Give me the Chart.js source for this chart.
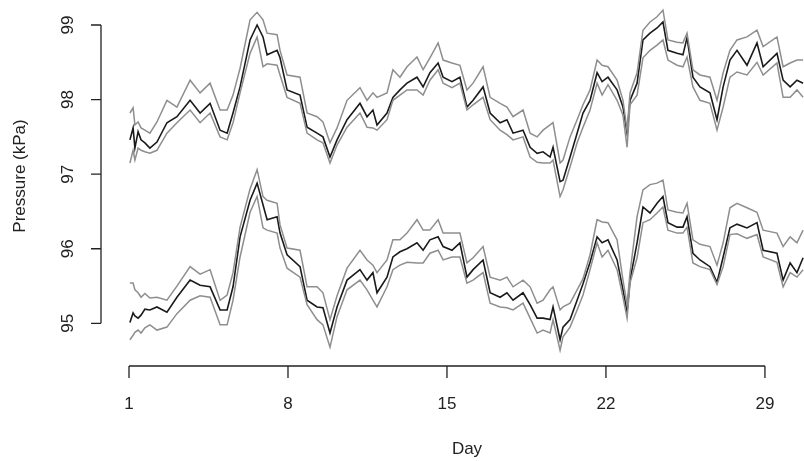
<!DOCTYPE html>
<html>
<head>
<meta charset="utf-8">
<title>Pressure by day</title>
<script src="https://cdn.jsdelivr.net/npm/chart.js@4.4.0/dist/chart.umd.min.js"></script>
<style>
  body { margin: 0; background: #ffffff; }
  canvas { display: block; }
</style>
</head>
<body>
<canvas id="pressureChart" width="804" height="461"></canvas>
<script>
// Day positions of the readings (shared by all six lines)
const days = [1.04, 1.18, 1.26, 1.40, 1.53, 1.70, 1.92, 2.23, 2.67, 3.11,
    3.69, 4.13, 4.57, 5.01, 5.32, 5.58, 5.89, 6.33, 6.64, 6.90,
    7.08, 7.52, 7.65, 7.96, 8.53, 8.84, 9.28, 9.54, 9.85, 10.16,
    10.60, 11.17, 11.48, 11.74, 11.92, 12.36, 12.62, 12.93, 13.24, 13.68,
    13.95, 14.25, 14.61, 14.83, 15.22, 15.57, 15.88, 16.15, 16.59, 16.90,
    17.34, 17.64, 17.91, 18.35, 18.66, 18.97, 19.23, 19.54, 19.67, 19.98,
    20.11, 20.42, 20.73, 20.99, 21.30, 21.61, 21.83, 22.09, 22.49, 22.75,
    22.93, 23.06, 23.37, 23.63, 23.94, 24.25, 24.51, 24.73, 25.13, 25.39,
    25.57, 25.83, 26.14, 26.58, 26.89, 27.16, 27.46, 27.77, 28.21, 28.65,
    28.92, 29.53, 29.80, 30.11, 30.41, 30.68];

// Upper group (kPa)
const topMid = [97.46, 97.62, 97.35, 97.57, 97.46, 97.42, 97.35, 97.43, 97.69, 97.77,
    97.99, 97.82, 97.95, 97.59, 97.55, 97.82, 98.17, 98.80, 99.00, 98.84,
    98.60, 98.66, 98.56, 98.13, 98.06, 97.63, 97.55, 97.50, 97.23, 97.46,
    97.73, 97.95, 97.77, 97.86, 97.66, 97.82, 98.03, 98.13, 98.22, 98.30,
    98.17, 98.36, 98.49, 98.30, 98.24, 98.30, 97.90, 97.99, 98.17, 97.82,
    97.69, 97.73, 97.55, 97.59, 97.36, 97.28, 97.30, 97.23, 97.36, 96.90,
    96.92, 97.23, 97.55, 97.82, 97.99, 98.36, 98.24, 98.30, 98.13, 97.90,
    97.55, 97.99, 98.22, 98.80, 98.89, 98.96, 99.04, 98.66, 98.62, 98.60,
    98.83, 98.30, 98.17, 98.09, 97.73, 98.17, 98.53, 98.66, 98.46, 98.76,
    98.44, 98.62, 98.26, 98.17, 98.26, 98.22];
const topHigh = [97.82, 97.89, 97.66, 97.70, 97.62, 97.59, 97.55, 97.70, 97.99, 97.90,
    98.26, 98.09, 98.22, 97.86, 97.86, 98.06, 98.42, 99.07, 99.17, 99.07,
    98.89, 98.87, 98.66, 98.33, 98.30, 97.82, 97.77, 97.70, 97.42, 97.62,
    97.99, 98.16, 97.99, 98.09, 98.03, 98.09, 98.40, 98.30, 98.44, 98.57,
    98.40, 98.56, 98.76, 98.53, 98.49, 98.46, 98.13, 98.22, 98.44, 98.03,
    97.95, 97.90, 97.77, 97.86, 97.55, 97.50, 97.59, 97.66, 97.69, 97.15,
    97.19, 97.50, 97.73, 97.93, 98.13, 98.53, 98.46, 98.44, 98.26, 97.99,
    97.59, 98.09, 98.36, 98.93, 99.04, 99.11, 99.20, 98.80, 98.77, 98.76,
    98.89, 98.40, 98.33, 98.30, 97.99, 98.36, 98.66, 98.80, 98.84, 98.93,
    98.71, 98.84, 98.44, 98.49, 98.53, 98.53];
const topLow = [97.15, 97.32, 97.19, 97.35, 97.32, 97.30, 97.28, 97.32, 97.55, 97.69,
    97.86, 97.69, 97.82, 97.50, 97.46, 97.69, 98.09, 98.62, 98.84, 98.44,
    98.48, 98.46, 98.33, 98.03, 97.95, 97.55, 97.46, 97.42, 97.15, 97.39,
    97.63, 97.82, 97.63, 97.62, 97.59, 97.73, 97.99, 98.06, 98.13, 98.13,
    98.06, 98.26, 98.40, 98.22, 98.16, 98.22, 97.86, 97.93, 98.03, 97.73,
    97.59, 97.53, 97.46, 97.50, 97.23, 97.16, 97.15, 97.15, 97.19, 96.70,
    96.79, 97.10, 97.42, 97.63, 97.86, 98.22, 98.06, 98.20, 97.99, 97.79,
    97.36, 97.93, 98.06, 98.56, 98.66, 98.73, 98.80, 98.53, 98.46, 98.44,
    98.57, 98.17, 97.99, 97.95, 97.59, 97.90, 98.30, 98.37, 98.33, 98.50,
    98.33, 98.49, 98.03, 98.03, 98.13, 98.03];

// Lower group (kPa)
const botMid = [95.01, 95.14, 95.10, 95.07, 95.11, 95.19, 95.18, 95.22, 95.15, 95.35,
    95.58, 95.51, 95.49, 95.18, 95.18, 95.49, 96.16, 96.65, 96.88, 96.59,
    96.39, 96.43, 96.21, 95.92, 95.76, 95.31, 95.22, 95.21, 94.87, 95.22,
    95.58, 95.72, 95.58, 95.68, 95.41, 95.62, 95.89, 95.96, 96.00, 96.08,
    95.98, 96.12, 96.16, 96.03, 95.98, 96.08, 95.62, 95.72, 95.85, 95.41,
    95.35, 95.41, 95.31, 95.41, 95.25, 95.07, 95.07, 95.05, 95.22, 94.78,
    94.95, 95.05, 95.31, 95.53, 95.82, 96.16, 96.08, 96.12, 95.85, 95.45,
    95.15, 95.58, 96.08, 96.56, 96.48, 96.61, 96.70, 96.35, 96.29, 96.29,
    96.43, 95.94, 95.85, 95.76, 95.55, 95.89, 96.28, 96.33, 96.28, 96.35,
    95.98, 95.94, 95.58, 95.81, 95.68, 95.88];
const botHigh = [95.54, 95.54, 95.45, 95.41, 95.35, 95.40, 95.34, 95.35, 95.31, 95.50,
    95.76, 95.66, 95.72, 95.31, 95.38, 95.68, 96.29, 96.80, 97.06, 96.70,
    96.65, 96.61, 96.32, 96.01, 95.98, 95.49, 95.49, 95.41, 95.05, 95.37,
    95.74, 95.98, 95.85, 95.78, 95.68, 95.85, 96.12, 96.12, 96.21, 96.39,
    96.25, 96.25, 96.39, 96.21, 96.21, 96.21, 95.81, 95.88, 96.03, 95.62,
    95.58, 95.62, 95.49, 95.58, 95.49, 95.27, 95.31, 95.45, 95.49, 95.18,
    95.22, 95.27, 95.45, 95.60, 95.92, 96.39, 96.36, 96.35, 96.12, 95.58,
    95.25, 95.68, 96.43, 96.79, 96.86, 96.88, 96.92, 96.52, 96.49, 96.48,
    96.61, 96.12, 96.06, 96.03, 95.78, 96.08, 96.55, 96.61, 96.55, 96.49,
    96.25, 96.21, 96.03, 96.16, 96.08, 96.25];
const botLow = [94.78, 94.84, 94.88, 94.91, 94.87, 94.94, 94.98, 94.91, 94.95, 95.13,
    95.31, 95.37, 95.35, 94.98, 94.98, 95.31, 95.89, 96.49, 96.70, 96.28,
    96.25, 96.21, 96.01, 95.74, 95.62, 95.25, 95.05, 94.98, 94.68, 95.09,
    95.45, 95.58, 95.45, 95.31, 95.22, 95.49, 95.72, 95.78, 95.82, 95.81,
    95.81, 95.94, 95.98, 95.85, 95.89, 95.89, 95.54, 95.58, 95.68, 95.27,
    95.22, 95.21, 95.18, 95.27, 95.07, 94.87, 94.91, 94.87, 95.05, 94.64,
    94.82, 94.95, 95.18, 95.38, 95.72, 96.08, 95.89, 95.98, 95.72, 95.35,
    95.07, 95.54, 95.88, 96.35, 96.39, 96.48, 96.56, 96.25, 96.21, 96.21,
    96.29, 95.81, 95.76, 95.72, 95.52, 95.76, 96.19, 96.20, 96.14, 96.19,
    95.89, 95.82, 95.49, 95.68, 95.62, 95.72];

// Axis ticks
const dayTicks = [1, 8, 15, 22, 29];
const kpaTicks = [95, 96, 97, 98, 99];

const FONT = '"Liberation Sans", Arial, Helvetica, sans-serif';

function makePoints(values) {
    return values.map((v, i) => ({ x: days[i], y: v }));
}

function makeLine(values, color, width) {
    return {
        data: makePoints(values),
        borderColor: color,
        borderWidth: width,
        pointRadius: 0,
        tension: 0,
        fill: false
    };
}

// Draws R-style axes (offset lines, outward ticks, rotated y labels)
const rAxes = {
    id: 'rAxes',
    afterDraw(chart) {
        const ctx = chart.ctx;
        const xs = chart.scales.x;
        const ys = chart.scales.y;
        ctx.save();
        ctx.strokeStyle = '#222';
        ctx.fillStyle = '#222';
        ctx.lineWidth = 1.3;

        // y axis
        const axX = 101;
        const yTop = ys.getPixelForValue(kpaTicks[kpaTicks.length - 1]);
        const yBot = ys.getPixelForValue(kpaTicks[0]);
        ctx.beginPath();
        ctx.moveTo(axX, yTop);
        ctx.lineTo(axX, yBot);
        kpaTicks.forEach(t => {
            const py = ys.getPixelForValue(t);
            ctx.moveTo(axX, py);
            ctx.lineTo(axX - 10, py);
        });
        ctx.stroke();

        ctx.font = '17px ' + FONT;
        ctx.textAlign = 'center';
        ctx.textBaseline = 'middle';
        kpaTicks.forEach(t => {
            const py = ys.getPixelForValue(t);
            ctx.save();
            ctx.translate(68, py);
            ctx.rotate(-Math.PI / 2);
            ctx.fillText(String(t), 0, 0);
            ctx.restore();
        });

        // x axis
        const axY = 366;
        ctx.beginPath();
        ctx.moveTo(xs.getPixelForValue(dayTicks[0]), axY);
        ctx.lineTo(xs.getPixelForValue(dayTicks[dayTicks.length - 1]), axY);
        dayTicks.forEach(t => {
            const px = xs.getPixelForValue(t);
            ctx.moveTo(px, axY);
            ctx.lineTo(px, axY + 12);
        });
        ctx.stroke();

        dayTicks.forEach(t => {
            ctx.fillText(String(t), xs.getPixelForValue(t), 404);
        });

        // titles
        ctx.fillText('Day', 467, 449);
        ctx.save();
        ctx.translate(20, 176);
        ctx.rotate(-Math.PI / 2);
        ctx.fillText('Pressure (kPa)', 0, 0);
        ctx.restore();

        ctx.restore();
    }
};

window.onload = function() {
    const ctx = document.getElementById('pressureChart').getContext('2d');
    new Chart(ctx, {
        type: 'line',
        data: {
            datasets: [
                makeLine(topHigh, '#8e8e8e', 1.5),
                makeLine(topLow, '#8e8e8e', 1.5),
                makeLine(botHigh, '#8e8e8e', 1.5),
                makeLine(botLow, '#8e8e8e', 1.5),
                makeLine(topMid, '#1a1a1a', 1.6),
                makeLine(botMid, '#1a1a1a', 1.6)
            ]
        },
        options: {
            responsive: false,
            animation: false,
            layout: { padding: { left: 100, right: 0, top: 0, bottom: 94 } },
            plugins: {
                legend: { display: false },
                tooltip: { enabled: false }
            },
            scales: {
                x: { type: 'linear', display: false, min: -0.277, max: 30.72 },
                y: { type: 'linear', display: false, min: 94.415, max: 99.335 }
            }
        },
        plugins: [rAxes]
    });
};
</script>
</body>
</html>
